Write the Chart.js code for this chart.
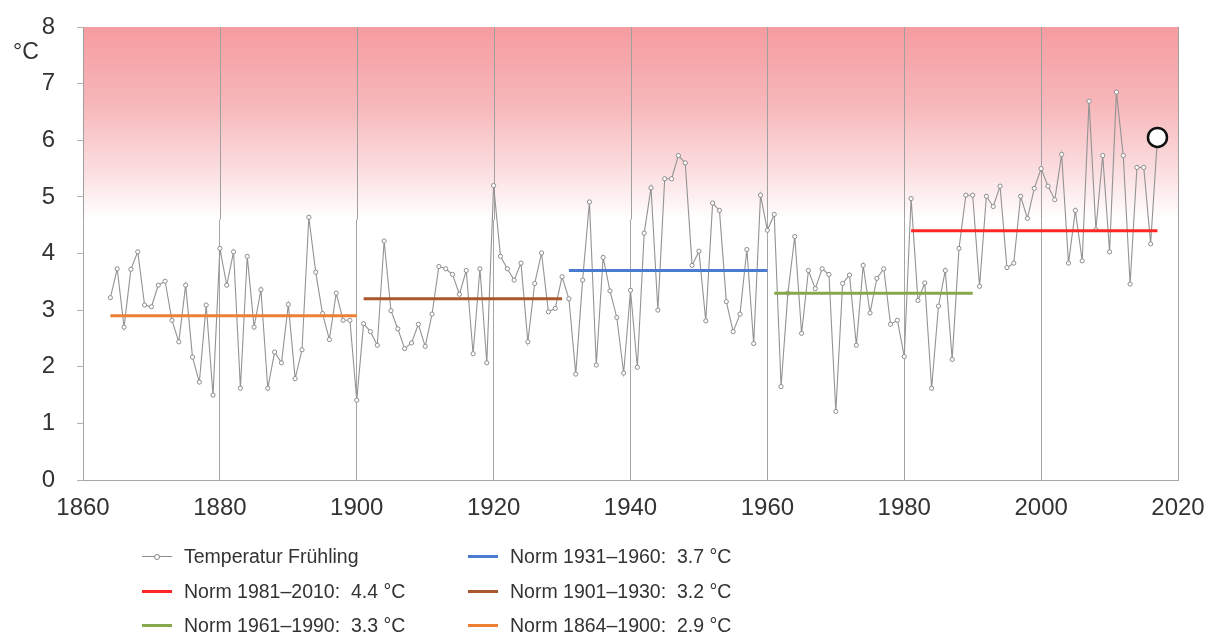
<!DOCTYPE html>
<html>
<head>
<meta charset="utf-8">
<script src="https://cdn.jsdelivr.net/npm/chart.js@4/dist/chart.umd.min.js"></script>
<style>
  html, body { margin: 0; padding: 0; background: #fff; }
  .wrap { position: relative; width: 1210px; height: 632px; font-family: "Liberation Sans", Arial, sans-serif; }
  .unit { position: absolute; left: 13px; top: 38px; font-size: 23px; color: #333; }
  .legend-item { position: absolute; height: 24px; display: flex; align-items: center; font-size: 19.5px; color: #333; white-space: pre; }
  .legend-item .swatch { position: relative; width: 30px; height: 3px; margin-right: 12px; }
  .legend-item .dot { position: absolute; left: 12px; top: -2px; width: 4px; height: 4px; border: 1px solid #888; border-radius: 50%; background: #fff; }
</style>
</head>
<body>
<div class="wrap">
  <canvas id="chart" width="1210" height="632"></canvas>
  <div class="unit">°C</div>
  <div id="legend"></div>
</div>
<script>
// Frühlingstemperatur, ein Wert pro Jahr ab firstYear
const firstYear = 1864;
const springTemp = [
  3.22, 3.73, 2.70, 3.72, 4.03, 3.09, 3.06, 3.44, 3.51, 2.82,
  2.44, 3.44, 2.17, 1.73, 3.09, 1.50, 4.09, 3.44, 4.03, 1.62,
  3.95, 2.70, 3.36, 1.62, 2.26, 2.07, 3.10, 1.79, 2.30, 4.64,
  3.67, 2.94, 2.48, 3.30, 2.82, 2.82, 1.41, 2.76, 2.62, 2.38,
  4.22, 2.99, 2.67, 2.32, 2.42, 2.75, 2.36, 2.93, 3.77, 3.73,
  3.63, 3.28, 3.70, 2.23, 3.73, 2.07, 5.20, 3.95, 3.73, 3.53,
  3.83, 2.44, 3.47, 4.01, 2.97, 3.03, 3.59, 3.20, 1.87, 3.53,
  4.91, 2.03, 3.93, 3.34, 2.87, 1.89, 3.35, 1.99, 4.36, 5.16,
  3.00, 5.32, 5.32, 5.73, 5.60, 3.79, 4.04, 2.81, 4.89, 4.76,
  3.15, 2.62, 2.93, 4.07, 2.41, 5.03, 4.41, 4.69, 1.65, 3.30,
  4.30, 2.59, 3.70, 3.38, 3.73, 3.63, 1.21, 3.47, 3.62, 2.38,
  3.79, 2.95, 3.56, 3.73, 2.75, 2.82, 2.18, 4.97, 3.17, 3.48,
  1.62, 3.07, 3.70, 2.13, 4.09, 5.03, 5.03, 3.42, 5.01, 4.83,
  5.19, 3.75, 3.83, 5.01, 4.62, 5.15, 5.50, 5.19, 4.95, 5.75,
  3.83, 4.76, 3.87, 6.69, 4.42, 5.73, 4.03, 6.85, 5.73, 3.46,
  5.52, 5.52, 4.17, 6.05,
];

// Normwerte
const normLabels = [`Norm 1981–2010:  4.4 °C`, `Norm 1961–1990:  3.3 °C`, `Norm 1931–1960:  3.7 °C`, `Norm 1901–1930:  3.2 °C`, `Norm 1864–1900:  2.9 °C`];
const normFrom = [1981, 1961, 1931, 1901, 1864];
const normTo = [2017, 1990, 1960, 1930, 1900];
const normValues = [4.4, 3.3, 3.7, 3.2, 2.9];
const normColors = [`#ff2626`, `#86a74a`, `#4a7bd0`, `#a8582c`, `#ef8033`];

const xTicks = [1860, 1880, 1900, 1920, 1940, 1960, 1980, 2000, 2020];
const yTicks = [0, 1, 2, 3, 4, 5, 6, 7, 8];

const years = springTemp.map((it, i) => firstYear + i);
const lastIdx = springTemp.length - 1;

const tempDataset = {
  label: `Temperatur Frühling`,
  data: springTemp.map((it, i) => ({x: years[i], y: it})),
  borderColor: `#939393`,
  borderWidth: 1.1,
  pointRadius: springTemp.map((it, i) => i === lastIdx ? 9.5 : 2.1),
  pointBackgroundColor: `#ffffff`,
  pointBorderColor: springTemp.map((it, i) => i === lastIdx ? `#111111` : `#8c8c8c`),
  pointBorderWidth: springTemp.map((it, i) => i === lastIdx ? 2.5 : 1),
  order: 2,
};

const normDatasets = normLabels.map((label, i) => ({
  label,
  data: [{x: normFrom[i], y: normValues[i]}, {x: normTo[i], y: normValues[i]}],
  borderColor: normColors[i],
  borderWidth: 3,
  pointRadius: 0,
  order: 1,
}));

// rosa Verlauf oben im Diagramm
const warmBackground = {
  id: `warmBackground`,
  beforeDatasetsDraw(chart) {
    const {ctx, chartArea, scales} = chart;
    const yTop = scales.y.getPixelForValue(8);
    const yEnd = scales.y.getPixelForValue(4.6);
    const grad = ctx.createLinearGradient(0, yTop, 0, yEnd);
    grad.addColorStop(0, `rgb(245,156,160)`);
    grad.addColorStop(0.4, `rgb(247,183,186)`);
    grad.addColorStop(0.75, `rgb(251,222,224)`);
    grad.addColorStop(1, `rgb(255,255,255)`);
    ctx.save();
    ctx.fillStyle = grad;
    ctx.fillRect(chartArea.left + 1, yTop, chartArea.right - chartArea.left - 1, yEnd - yTop);
    // Gitterlinien im Verlauf wieder darüber
    ctx.strokeStyle = `#a0a0a0`;
    ctx.lineWidth = 1;
    xTicks.forEach((t) => {
      const px = Math.round(scales.x.getPixelForValue(t)) + 0.5;
      ctx.beginPath();
      ctx.moveTo(px, yTop);
      ctx.lineTo(px, yEnd);
      ctx.stroke();
    });
    ctx.restore();
  },
};

const ctx = document.getElementById(`chart`);

new Chart(ctx, {
  type: `line`,
  plugins: [warmBackground],
  data: {
    datasets: [tempDataset, ...normDatasets],
  },
  options: {
    responsive: false,
    animation: false,
    layout: {padding: {left: 0, right: 32, top: 27, bottom: 102}},
    plugins: {
      legend: {display: false},
      tooltip: {enabled: false},
    },
    scales: {
      x: {
        type: `linear`,
        min: 1860,
        max: 2020,
        afterBuildTicks: (scale) => {
          scale.ticks = xTicks.map((v) => ({value: v}));
        },
        afterFit: (scale) => {
          scale.height = 50;
          scale.paddingLeft = 0;
          scale.paddingRight = 0;
        },
        ticks: {
          callback: (v) => String(v),
          color: `#333`,
          font: {family: `"Liberation Sans", Arial, sans-serif`, size: 24},
          padding: 14,
          maxRotation: 0,
        },
        grid: {color: `#a6a6a6`, drawTicks: false},
        border: {color: `#a6a6a6`},
      },
      y: {
        min: 0,
        max: 8,
        afterBuildTicks: (scale) => {
          scale.ticks = yTicks.map((v) => ({value: v}));
        },
        afterFit: (scale) => {
          scale.width = 83;
          scale.paddingTop = 0;
          scale.paddingBottom = 0;
        },
        ticks: {
          color: `#333`,
          font: {family: `"Liberation Sans", Arial, sans-serif`, size: 24},
          padding: 22,
        },
        grid: {drawOnChartArea: false, color: `#b0b0b0`, tickLength: 6},
        border: {color: `#a6a6a6`},
      },
    },
  },
});

// Legende in zwei Spalten
const legendEl = document.getElementById(`legend`);
const legendItems = [
  {text: tempDataset.label, color: `#8c8c8c`, thin: true},
  {text: normLabels[0], color: normColors[0]},
  {text: normLabels[1], color: normColors[1]},
  {text: normLabels[2], color: normColors[2]},
  {text: normLabels[3], color: normColors[3]},
  {text: normLabels[4], color: normColors[4]},
];
const legendCols = [142, 468];
const legendRows = [544, 579, 613];

legendItems.forEach((it, i) => {
  const item = document.createElement(`div`);
  item.className = `legend-item`;
  item.style.left = `${legendCols[Math.floor(i / 3)]}px`;
  item.style.top = `${legendRows[i % 3]}px`;
  const swatch = document.createElement(`span`);
  swatch.className = `swatch`;
  swatch.style.background = it.color;
  if (it.thin) {
    swatch.style.height = `1px`;
    const dot = document.createElement(`span`);
    dot.className = `dot`;
    swatch.appendChild(dot);
  }
  item.appendChild(swatch);
  item.appendChild(document.createTextNode(it.text));
  legendEl.appendChild(item);
});
</script>
</body>
</html>
